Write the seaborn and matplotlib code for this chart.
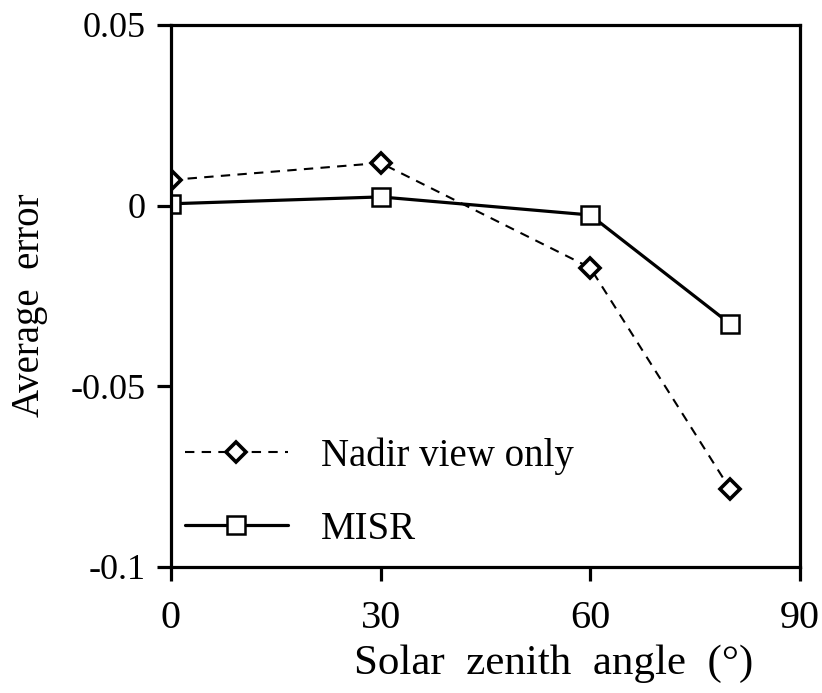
import matplotlib
matplotlib.use("Agg")
import matplotlib.pyplot as plt
import seaborn as sns
import pandas as pd

# Solar zenith angles (degrees) and average retrieval error for each configuration
angles = [0, 30, 60, 80]
nadir_error = [0.0071, 0.0118, -0.0172, -0.0784]
misr_error = [0.0005, 0.0024, -0.0026, -0.0327]

x_ticks = [0, 30, 60, 90]
y_ticks = [-0.1, -0.05, 0, 0.05]
y_tick_labels = ["-0.1", "-0.05", "0", "0.05"]

sns.set_theme(style="white")
plt.rcParams["font.family"] = ["Liberation Serif", "DejaVu Serif"]
plt.rcParams["text.color"] = "black"
plt.rcParams["axes.labelcolor"] = "black"
plt.rcParams["xtick.color"] = "black"
plt.rcParams["ytick.color"] = "black"

df = pd.DataFrame({
    "angle": angles * 2,
    "error": nadir_error + misr_error,
    "series": ["Nadir view only"] * len(angles) + ["MISR"] * len(angles),
})

fig = plt.figure(figsize=(8.22, 6.93), dpi=100)
ax = fig.add_axes([0.208, 0.182, 0.765, 0.782])

sns.lineplot(data=df[df.series == "Nadir view only"], x="angle", y="error",
             ax=ax, color="black", linewidth=1.5, linestyle=(0, (4.5, 3.5)),
             marker="D", markersize=10, markerfacecolor="white",
             markeredgecolor="black", markeredgewidth=2.6,
             label="Nadir view only")
sns.lineplot(data=df[df.series == "MISR"], x="angle", y="error",
             ax=ax, color="black", linewidth=2.3, linestyle="-",
             marker="s", markersize=13, markerfacecolor="white",
             markeredgecolor="black", markeredgewidth=1.8,
             label="MISR")

ax.set_xlim(0, 90)
ax.set_ylim(-0.1, 0.05)
ax.set_xticks(x_ticks)
ax.set_xticklabels([str(t) for t in x_ticks])
ax.set_yticks(y_ticks)
ax.set_yticklabels(y_tick_labels)

for s in ax.spines.values():
    s.set_visible(True)
    s.set_color("black")
    s.set_linewidth(2.3)

ax.tick_params(axis="both", direction="out", length=10, width=2.3,
               bottom=True, left=True, top=False, right=False)
ax.tick_params(axis="x", labelsize=29, pad=14)
ax.tick_params(axis="y", labelsize=26, pad=8)

ax.set_xlabel("Solar  zenith  angle  (°)", fontsize=31)
ax.xaxis.set_label_coords(0.609, -0.143)
ax.set_ylabel("Average  error", fontsize=28)
ax.yaxis.set_label_coords(-0.195, 0.483)

leg = ax.legend(loc="center left", bbox_to_anchor=(0.022, 0.137),
                frameon=False, fontsize=28, handlelength=2.65,
                handletextpad=0.85, labelspacing=0.93,
                borderpad=0, borderaxespad=0)
for t in leg.get_texts():
    t.set_color("black")

fig.savefig("out.png", dpi=100)
